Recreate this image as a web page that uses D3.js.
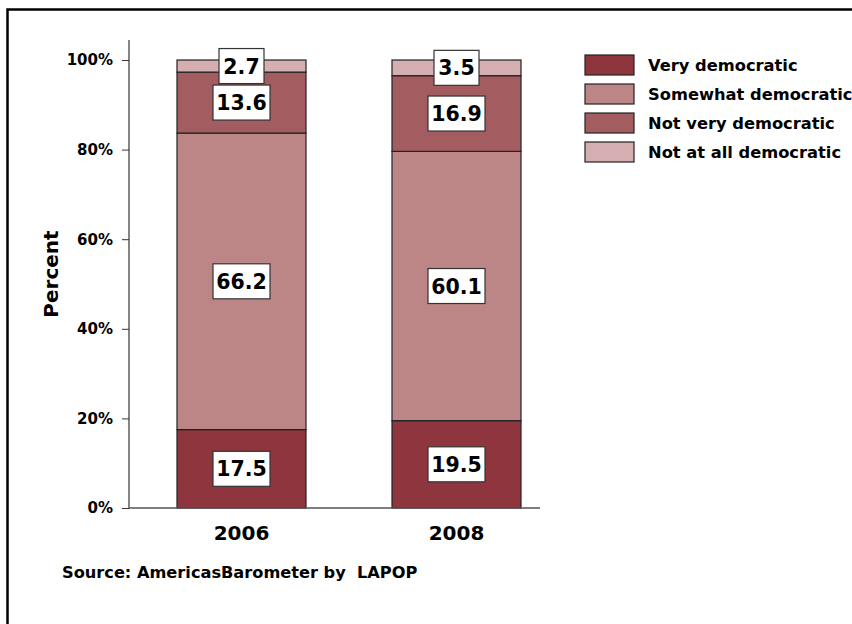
<!DOCTYPE html>
<html>
<head>
<meta charset="utf-8">
<script src="https://cdn.jsdelivr.net/npm/d3@7"></script>
<style>
  body { margin: 0; background: #fff; }
  svg text { font-family: "DejaVu Sans", "Liberation Sans", Arial, sans-serif; font-weight: bold; fill: #000; }
</style>
</head>
<body>
<div id="chart"></div>
<script>
(function() {
"use strict"

var width = 852, height = 624;

// data
var years = ["2006", "2008"];
var categories = ["Very democratic", "Somewhat democratic", "Not very democratic", "Not at all democratic"];
var colors = ["#8e353d", "#bc8687", "#a35c60", "#d4aeb0"];
var values2006 = [17.5, 66.2, 13.6, 2.7];
var values2008 = [19.5, 60.1, 16.9, 3.5];
var yTicks = [0, 20, 40, 60, 80, 100];

var series = [values2006, values2008];

var svg = d3.select("#chart").append("svg")
    .attr("width", width)
    .attr("height", height);

// outer frame
svg.append("rect")
    .attr("x", 7.5).attr("y", 9.5)
    .attr("width", 900).attr("height", 700)
    .style("fill", "none").style("stroke", "#000").style("stroke-width", 2.5);

var axisLeft = 129, axisRight = 540, y0 = 508, y100 = 60;

var yscale = d3.scaleLinear().domain([0, 100]).range([y0, y100]);
var xscale = d3.scaleBand().domain(years).range([177, 521])
    .paddingInner(0.4).paddingOuter(0);

// y axis
var yAxis = svg.append("g")
    .attr("transform", "translate(" + axisLeft + ",0)")
    .call(d3.axisLeft(yscale).tickValues(yTicks).tickSize(7).tickPadding(9)
        .tickFormat(function(d) { return d + "%"; }));
yAxis.select(".domain").remove();
yAxis.selectAll(".tick line").style("stroke", "#333");
yAxis.selectAll("text").style("font-size", "15px")
    .style("font-family", "'DejaVu Sans', sans-serif").style("font-weight", "bold");
svg.append("line")
    .attr("x1", axisLeft).attr("x2", axisLeft)
    .attr("y1", 40).attr("y2", y0)
    .style("stroke", "#333").style("stroke-width", 1.2);

// stacked segments
var stacks = series.map(function(vals, i) {
    var acc = 0;
    return vals.map(function(v, j) {
        var seg = {year: years[i], cat: j, value: v, y0: acc, y1: acc + v};
        acc += v;
        return seg;
    });
});

var bars = svg.append("g");
stacks.forEach(function(stack) {
    bars.selectAll(null)
        .data(stack)
        .enter().append("rect")
        .attr("x", function(d) { return xscale(d.year); })
        .attr("width", xscale.bandwidth())
        .attr("y", function(d) { return yscale(d.y1); })
        .attr("height", function(d) { return yscale(d.y0) - yscale(d.y1); })
        .style("fill", function(d) { return colors[d.cat]; })
        .style("stroke", "#222")
        .style("stroke-width", 1.2);
});

// x axis line
svg.append("line")
    .attr("x1", axisLeft).attr("x2", axisRight)
    .attr("y1", y0).attr("y2", y0)
    .style("stroke", "#555").style("stroke-width", 1.5);

// value labels
stacks.forEach(function(stack) {
    var g = svg.append("g");
    stack.forEach(function(d) {
        var cx = xscale(d.year) + xscale.bandwidth() / 2;
        var cy = (yscale(d.y0) + yscale(d.y1)) / 2;
        var txt = d.value.toFixed(1);
        var bw = txt.length > 3 ? 57 : 45;
        g.append("rect")
            .attr("x", cx - bw / 2).attr("y", cy - 17.5)
            .attr("width", bw).attr("height", 35)
            .style("fill", "#fff").style("stroke", "#333").style("stroke-width", 1.2);
        g.append("text")
            .attr("x", cx).attr("y", cy + 7.5)
            .attr("text-anchor", "middle")
            .style("font-size", "20.5px")
            .text(txt);
    });
});

// year labels
svg.selectAll(".year")
    .data(years)
    .enter().append("text")
    .attr("x", function(d) { return xscale(d) + xscale.bandwidth() / 2; })
    .attr("y", 540)
    .attr("text-anchor", "middle")
    .style("font-size", "20px")
    .text(function(d) { return d; });

// y title
svg.append("text")
    .attr("transform", "translate(58,274) rotate(-90)")
    .attr("text-anchor", "middle")
    .style("font-size", "20px")
    .text("Percent");

// source
svg.append("text")
    .attr("x", 62).attr("y", 578)
    .attr("xml:space", "preserve")
    .style("font-size", "16.2px")
    .text("Source: AmericasBarometer by  LAPOP");

// legend
var legend = svg.append("g").attr("transform", "translate(585,55)");
categories.forEach(function(c, i) {
    legend.append("rect")
        .attr("x", 0).attr("y", i * 29)
        .attr("width", 49).attr("height", 20)
        .style("fill", colors[i]).style("stroke", "#222").style("stroke-width", 1.2);
    legend.append("text")
        .attr("x", 63).attr("y", i * 29 + 16)
        .style("font-size", "16.3px")
        .text(c);
});

})();
</script>
</body>
</html>
